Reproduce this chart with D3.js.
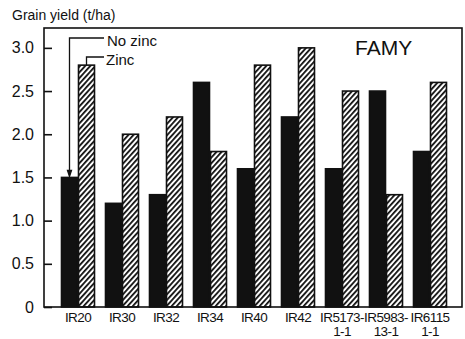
<!DOCTYPE html>
<html>
<head>
<meta charset="utf-8">
<script src="https://cdn.jsdelivr.net/npm/d3@7"></script>
<style>
  html, body { margin: 0; padding: 0; background: #fff; }
  svg { display: block; }
  text { font-family: "Liberation Sans", Arial, sans-serif; fill: #111; }
</style>
</head>
<body>
<svg id="chart" width="465" height="339"></svg>
<script>
// Rice cultivars (second line of a label after "\n")
const cultivars = ["IR20", "IR30", "IR32", "IR34", "IR40", "IR42", "IR5173-\n1-1", "IR5983-\n13-1", "IR6115\n1-1"];
// Grain yield, t/ha
const noZinc = [1.5, 1.2, 1.3, 2.6, 1.6, 2.2, 1.6, 2.5, 1.8];
const zinc   = [2.8, 2.0, 2.2, 1.8, 2.8, 3.0, 2.5, 1.3, 2.6];
const seriesNames = ["No zinc", "Zinc"];
const yTicks = [0, 0.5, 1.0, 1.5, 2.0, 2.5, 3.0];
const yTop = 3.23;

const svg = d3.select("#chart");
const frame = { left: 44, right: 462, top: 28, bottom: 307 };

const x = d3.scaleBand().domain(cultivars).range([56, 452]).paddingInner(0.25).paddingOuter(0.125);
const xs = d3.scaleBand().domain(seriesNames).range([0, x.bandwidth()]).paddingInner(0.06);
const y = d3.scaleLinear().domain([0, yTop]).range([frame.bottom, frame.top]);

// diagonal hatch for the zinc bars
const defs = svg.append("defs");
const pat = defs.append("pattern")
  .attr("id", "hatch").attr("patternUnits", "userSpaceOnUse")
  .attr("width", 3.8).attr("height", 3.8)
  .attr("patternTransform", "rotate(42)");
pat.append("rect").attr("width", 3.8).attr("height", 3.8).attr("fill", "#fff");
pat.append("line").attr("x1", 0.9).attr("y1", 0).attr("x2", 0.9).attr("y2", 3.8)
  .attr("stroke", "#111").attr("stroke-width", 1.8);

// bars
const rows = cultivars.map((c, i) => ({ c, vals: [noZinc[i], zinc[i]] }));
const groups = svg.append("g").selectAll("g").data(rows).join("g")
  .attr("transform", d => `translate(${x(d.c)},0)`);
groups.selectAll("rect")
  .data(d => d.vals.map((v, k) => ({ s: seriesNames[k], v })))
  .join("rect")
  .attr("x", d => xs(d.s))
  .attr("width", xs.bandwidth())
  .attr("y", d => y(d.v))
  .attr("height", d => y(0) - y(d.v))
  .attr("fill", d => d.s === "Zinc" ? "url(#hatch)" : "#111")
  .attr("stroke", "#111")
  .attr("stroke-width", 1.6);

// frame
svg.append("rect")
  .attr("x", frame.left).attr("y", frame.top)
  .attr("width", frame.right - frame.left).attr("height", frame.bottom - frame.top)
  .attr("fill", "none").attr("stroke", "#111").attr("stroke-width", 1.6);

// y axis with inward ticks
const yAxis = svg.append("g").attr("transform", `translate(${frame.left},0)`)
  .call(d3.axisLeft(y).tickValues(yTicks).tickSizeInner(-8).tickSizeOuter(0).tickPadding(10)
    .tickFormat(d => d === 0 ? "0" : d.toFixed(1)));
yAxis.select(".domain").remove();
yAxis.selectAll("line").attr("stroke", "#111").attr("stroke-width", 1.6);
yAxis.selectAll("text").attr("font-size", 16).style("font-family", "'Liberation Sans', Arial, sans-serif");

// x axis labels
const xAxis = svg.append("g").attr("transform", `translate(0,${frame.bottom})`)
  .call(d3.axisBottom(x).tickSize(0).tickPadding(5));
xAxis.select(".domain").remove();
xAxis.selectAll("text")
  .attr("font-size", 13.5)
  .attr("letter-spacing", -0.6)
  .style("font-family", "'Liberation Sans', Arial, sans-serif")
  .each(function (d) {
    const parts = d.split("\n");
    const t = d3.select(this).text(null);
    parts.forEach((p, i) => {
      t.append("tspan").attr("x", 0).attr("dy", i === 0 ? "0.71em" : "1.1em").text(p);
    });
  })
  .attr("dy", null);

// axis title
svg.append("text").attr("x", 12).attr("y", 20).attr("font-size", 14).text("Grain yield (t/ha)");

// panel title
svg.append("text").attr("x", 355).attr("y", 55).attr("font-size", 21).text("FAMY");

// legend leaders pointing at the IR20 bars
const first = cultivars[0];
const nzX = x(first) + xs("No zinc") + xs.bandwidth() / 2;
const zX = x(first) + xs("Zinc") + xs.bandwidth() / 2;
const leaderY1 = 38, leaderY2 = 57, legendEnd = 104;
const lg = svg.append("g").attr("stroke", "#111").attr("stroke-width", 1.3).attr("fill", "none");
lg.append("path").attr("d", `M${legendEnd},${leaderY1}H${nzX}V${y(noZinc[0]) - 6}`);
lg.append("path").attr("d", `M${nzX - 2},${y(noZinc[0]) - 7}L${nzX + 2},${y(noZinc[0]) - 7}L${nzX},${y(noZinc[0]) - 1}Z`)
  .attr("fill", "#111");
lg.append("path").attr("d", `M${legendEnd},${leaderY2}H${zX}V${y(zinc[0])}`);
svg.append("text").attr("x", 107).attr("y", 46).attr("font-size", 15).text(seriesNames[0]);
svg.append("text").attr("x", 106).attr("y", 65).attr("font-size", 15).text(seriesNames[1]);
</script>
</body>
</html>
